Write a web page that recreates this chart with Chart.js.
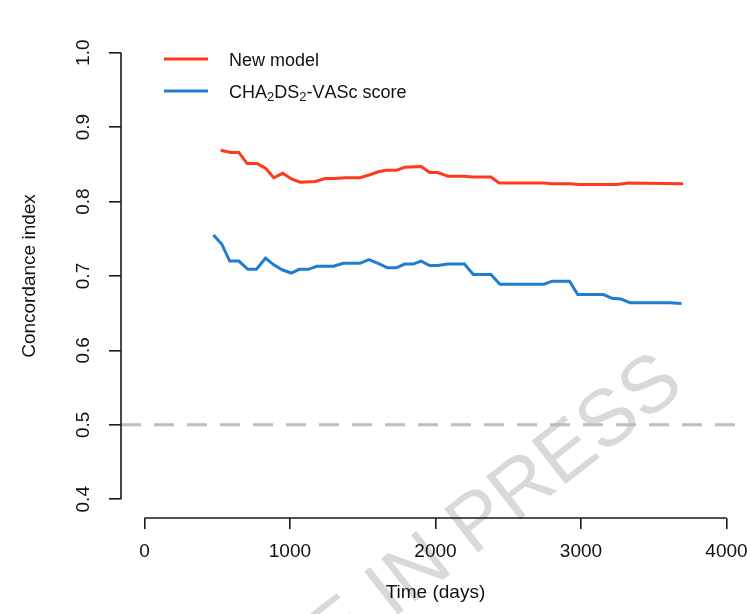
<!DOCTYPE html>
<html>
<head>
<meta charset="utf-8">
<script src="https://cdn.jsdelivr.net/npm/chart.js@4/dist/chart.umd.min.js"></script>
<style>
  html, body { margin: 0; padding: 0; background: #fff; }
  #wrap { width: 747px; height: 614px; }
</style>
</head>
<body>
<div id="wrap"><canvas id="cindexChart"></canvas></div>
<script>
// values
const daysNew = [524, 593, 649, 706, 774, 832, 889, 950, 1014, 1071, 1174, 1242, 1310, 1379, 1481, 1550, 1606, 1663, 1731, 1788, 1902, 1960, 2016, 2085, 2199, 2256, 2381, 2438, 2746, 2802, 2928, 2985, 3247, 3326, 3702];
const cindexNew = [0.869, 0.866, 0.866, 0.851, 0.851, 0.845, 0.832, 0.838, 0.830, 0.826, 0.827, 0.831, 0.831, 0.832, 0.832, 0.836, 0.840, 0.842, 0.842, 0.846, 0.847, 0.839, 0.839, 0.834, 0.834, 0.833, 0.833, 0.825, 0.825, 0.824, 0.824, 0.823, 0.823, 0.825, 0.824];

const daysCha = [474, 531, 586, 649, 711, 770, 832, 889, 950, 1009, 1064, 1128, 1185, 1299, 1367, 1481, 1543, 1606, 1670, 1731, 1788, 1846, 1902, 1960, 2016, 2085, 2199, 2260, 2381, 2443, 2746, 2802, 2921, 2978, 3155, 3213, 3276, 3338, 3611, 3691];
const cindexCha = [0.755, 0.743, 0.720, 0.720, 0.709, 0.709, 0.724, 0.715, 0.708, 0.704, 0.709, 0.709, 0.713, 0.713, 0.717, 0.717, 0.722, 0.717, 0.711, 0.711, 0.716, 0.716, 0.720, 0.714, 0.714, 0.716, 0.716, 0.702, 0.702, 0.689, 0.689, 0.693, 0.693, 0.675, 0.675, 0.670, 0.669, 0.664, 0.664, 0.663];

const xTicks = [0, 1000, 2000, 3000, 4000];
const yTicks = [0.4, 0.5, 0.6, 0.7, 0.8, 0.9, 1.0];
const refLine = 0.5;
const seriesLabels = ['New model', 'CHA\u2082DS\u2082-VASc score'];

const X_MIN = -161, X_MAX = 4141;
const Y_MIN = 0.3748, Y_MAX = 1.0171;
const FONT = '"Liberation Sans", Arial, Helvetica, sans-serif';

function pairs(xs, ys) {
  return xs.map((x, i) => ({ x: x, y: ys[i] }));
}

// axes R-style: lines only between first and last tick, labels drawn here too
const axesPlugin = {
  id: 'rAxes',
  afterDraw(chart) {
    const ctx = chart.ctx;
    const xs = chart.scales.x, ys = chart.scales.y;
    const left = chart.chartArea.left, bottom = chart.chartArea.bottom;
    ctx.save();
    ctx.strokeStyle = '#1a1a1a';
    ctx.lineWidth = 1.6;
    ctx.beginPath();
    ctx.moveTo(left, ys.getPixelForValue(yTicks[0]));
    ctx.lineTo(left, ys.getPixelForValue(yTicks[yTicks.length - 1]));
    ctx.moveTo(xs.getPixelForValue(xTicks[0]), bottom);
    ctx.lineTo(xs.getPixelForValue(xTicks[xTicks.length - 1]), bottom);
    ctx.stroke();

    ctx.fillStyle = '#111';
    ctx.font = '19px ' + FONT;
    // x tick labels
    ctx.textAlign = 'center';
    ctx.textBaseline = 'alphabetic';
    xTicks.forEach(v => ctx.fillText(String(v), xs.getPixelForValue(v), 557));
    ctx.fillText('Time (days)', xs.getPixelForValue(2000), 598);
    // y tick labels, rotated like R's las=0
    yTicks.forEach(v => {
      ctx.save();
      ctx.translate(89, ys.getPixelForValue(v));
      ctx.rotate(-Math.PI / 2);
      ctx.fillText(v.toFixed(1), 0, 0);
      ctx.restore();
    });
    ctx.save();
    ctx.translate(35, ys.getPixelForValue(0.7));
    ctx.rotate(-Math.PI / 2);
    ctx.fillText('Concordance index', 0, 0);
    ctx.restore();
    ctx.restore();
  }
};

// legend inside the plot, with real subscripts
const legendPlugin = {
  id: 'innerLegend',
  afterDraw(chart) {
    const ctx = chart.ctx;
    const rows = [59, 91];
    ctx.save();
    chart.data.datasets.slice(0, 2).forEach((ds, i) => {
      const y = rows[i];
      ctx.strokeStyle = ds.borderColor;
      ctx.lineWidth = 3;
      ctx.beginPath();
      ctx.moveTo(164, y);
      ctx.lineTo(208, y);
      ctx.stroke();
      let x = 229;
      ctx.fillStyle = '#111';
      ctx.textAlign = 'left';
      ctx.textBaseline = 'alphabetic';
      for (const ch of ds.label) {
        if (ch === '\u2082') {
          ctx.font = '13px ' + FONT;
          ctx.fillText('2', x, y + 10);
          x += ctx.measureText('2').width;
        } else {
          ctx.font = '18px ' + FONT;
          ctx.fillText(ch, x, y + 7);
          x += ctx.measureText(ch).width;
        }
      }
    });
    ctx.restore();
  }
};

// faint "ARTICLE IN PRESS" stamp of the source
const stampPlugin = {
  id: 'stamp',
  beforeDatasetsDraw(chart) {
    const ctx = chart.ctx;
    ctx.save();
    ctx.translate(398, 615);
    ctx.rotate(-38 * Math.PI / 180);
    ctx.font = '80px ' + FONT;
    ctx.fillStyle = 'rgba(0,0,0,0.15)';
    ctx.textAlign = 'center';
    ctx.textBaseline = 'alphabetic';
    ctx.fillText('ARTICLE IN PRESS', 0, 0);
    ctx.restore();
  }
};

const ctx = document.getElementById('cindexChart').getContext('2d');
const chart = new Chart(ctx, {
  type: 'line',
  data: {
    datasets: [
      {
        label: seriesLabels[0],
        data: pairs(daysNew, cindexNew),
        borderColor: '#ff3a1c',
        borderWidth: 3,
        pointRadius: 0,
        tension: 0,
        order: 1
      },
      {
        label: seriesLabels[1],
        data: pairs(daysCha, cindexCha),
        borderColor: '#1f7dd0',
        borderWidth: 3,
        pointRadius: 0,
        tension: 0,
        order: 2
      },
      {
        label: 'reference',
        data: [{ x: X_MIN, y: refLine }, { x: X_MAX, y: refLine }],
        borderColor: '#bdbdbd',
        borderWidth: 3,
        borderDash: [20, 13],
        pointRadius: 0,
        order: 3
      }
    ]
  },
  options: {
    responsive: true,
    maintainAspectRatio: false,
    animation: false,
    layout: { padding: { left: 109, right: 0, top: 40, bottom: 85 } },
    plugins: {
      legend: { display: false },
      tooltip: { enabled: false }
    },
    scales: {
      x: {
        type: 'linear',
        min: X_MIN,
        max: X_MAX,
        afterBuildTicks: s => { s.ticks = xTicks.map(v => ({ value: v })); },
        ticks: { display: false },
        grid: { drawOnChartArea: false, drawTicks: true, tickLength: 11, color: '#1a1a1a', lineWidth: 1.6 },
        border: { display: false }
      },
      y: {
        type: 'linear',
        min: Y_MIN,
        max: Y_MAX,
        afterBuildTicks: s => { s.ticks = yTicks.map(v => ({ value: v })); },
        ticks: { display: false },
        grid: { drawOnChartArea: false, drawTicks: true, tickLength: 12, color: '#1a1a1a', lineWidth: 1.6 },
        border: { display: false }
      }
    }
  },
  plugins: [stampPlugin, axesPlugin, legendPlugin]
});
</script>
</body>
</html>
